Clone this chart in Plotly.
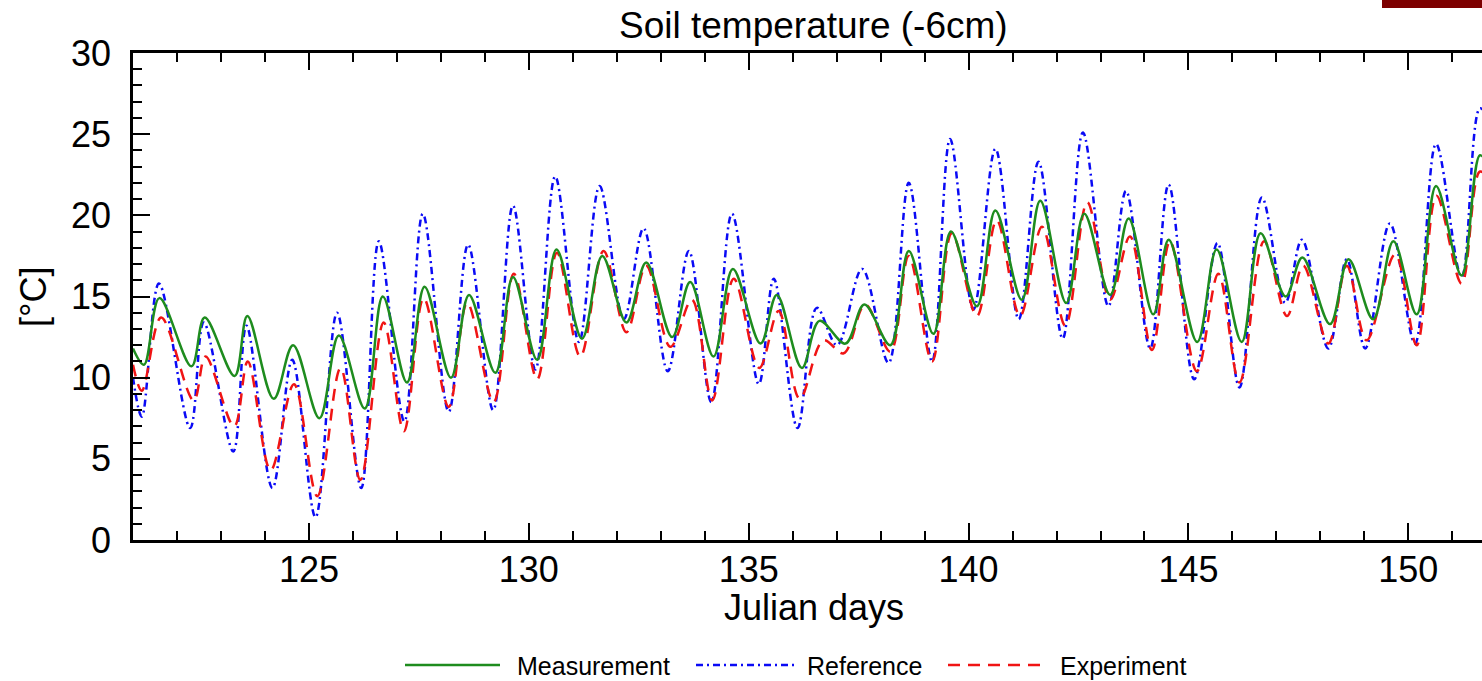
import plotly.graph_objects as go

# ---- data (daily extremes, Julian day / °C) ----
meas_x = [121.0, 121.25, 121.6, 122.33, 122.63, 123.31, 123.6, 124.2, 124.64, 125.24, 125.68, 126.27, 126.68,
          127.23, 127.63, 128.23, 128.64, 129.24, 129.64, 130.19, 130.63, 131.21, 131.67, 132.22, 132.67, 133.26,
          133.67, 134.2, 134.64, 135.27, 135.64, 136.21, 136.61, 137.2, 137.63, 138.22, 138.64, 139.2, 139.6,
          140.19, 140.61, 141.21, 141.63, 142.22, 142.63, 143.22, 143.64, 144.2, 144.55, 145.2, 145.64, 146.21,
          146.64, 147.21, 147.59, 148.22, 148.64, 149.2, 149.66, 150.19, 150.63, 151.21, 151.63, 151.9]
meas_y = [11.8, 10.8, 14.9, 10.7, 13.7, 10.1, 13.8, 8.7, 12.0, 7.5, 12.6, 8.1, 15.0,
          9.7, 15.6, 10.0, 15.1, 10.3, 16.2, 11.1, 17.9, 12.4, 17.5, 13.4, 17.1, 12.5,
          15.9, 11.3, 16.7, 12.1, 15.1, 10.6, 13.5, 12.1, 14.5, 12.0, 17.8, 12.7, 19.0,
          14.4, 20.3, 14.8, 20.9, 14.6, 20.1, 15.1, 19.8, 13.9, 18.5, 12.2, 17.9, 12.2,
          18.9, 15.0, 17.4, 13.3, 17.3, 13.6, 18.4, 13.9, 21.8, 16.3, 23.7, 22.5]

ref_x = [121.0, 121.2, 121.59, 122.3, 122.61, 123.28, 123.58, 124.17, 124.62, 125.15, 125.64, 126.19, 126.59,
         127.17, 127.59, 128.18, 128.62, 129.19, 129.64, 130.15, 130.6, 131.14, 131.61, 132.16, 132.61, 133.16,
         133.64, 134.15, 134.62, 135.23, 135.57, 136.11, 136.55, 137.01, 137.58, 138.18, 138.64, 139.17, 139.58,
         140.11, 140.61, 141.14, 141.59, 142.14, 142.6, 143.18, 143.58, 144.13, 144.55, 145.13, 145.66, 146.16,
         146.67, 147.2, 147.58, 148.18, 148.6, 149.02, 149.58, 150.15, 150.63, 151.21, 151.63, 151.9]
ref_y = [10.0, 7.6, 15.8, 6.9, 13.4, 5.45, 13.2, 3.2, 11.1, 1.4, 14.0, 3.2, 18.4,
         7.3, 20.1, 7.9, 18.2, 8.0, 20.6, 10.5, 22.4, 12.2, 21.8, 13.6, 19.2, 10.4,
         17.8, 8.5, 20.1, 9.6, 16.1, 6.9, 14.3, 12.0, 16.7, 10.9, 22.0, 11.0, 24.7,
         14.2, 24.1, 13.6, 23.3, 12.4, 25.1, 14.4, 21.5, 11.8, 21.9, 9.9, 18.3, 9.4,
         21.1, 14.6, 18.5, 11.8, 17.3, 11.8, 19.5, 12.1, 24.4, 16.2, 26.6, 25.5]

exp_x = [121.0, 121.2, 121.64, 122.38, 122.65, 123.3, 123.61, 124.13, 124.66, 125.19, 125.72, 126.17, 126.7,
         127.16, 127.61, 128.18, 128.6, 129.2, 129.66, 130.19, 130.64, 131.17, 131.7, 132.22, 132.67, 133.22,
         133.71, 134.17, 134.66, 135.24, 135.68, 136.16, 136.7, 137.16, 137.65, 138.22, 138.64, 139.17, 139.62,
         140.19, 140.64, 141.17, 141.67, 142.2, 142.7, 143.22, 143.67, 144.17, 144.58, 145.19, 145.68, 146.16,
         146.72, 147.24, 147.61, 148.18, 148.6, 149.05, 149.7, 150.19, 150.64, 151.21, 151.63, 151.9]
exp_y = [10.8, 9.2, 13.7, 8.6, 11.3, 7.0, 11.0, 4.3, 9.6, 2.7, 10.6, 3.7, 13.4,
         6.7, 14.9, 8.2, 14.6, 8.5, 16.4, 9.9, 17.7, 11.3, 17.8, 12.8, 16.9, 11.9,
         14.8, 8.6, 16.1, 10.6, 14.1, 8.7, 12.3, 11.5, 14.5, 11.6, 17.5, 11.0, 18.9,
         13.8, 19.7, 13.8, 19.3, 13.2, 20.8, 14.8, 18.7, 11.7, 18.4, 10.4, 16.4, 9.7,
         18.4, 13.8, 16.9, 12.1, 16.9, 12.3, 17.6, 12.0, 21.2, 15.8, 22.7, 22.0]

series_names = ["Measurement", "Reference", "Experiment"]
x_ticks = [125, 130, 135, 140, 145, 150]
y_ticks = [0, 5, 10, 15, 20, 25, 30]

GREEN = "rgb(30,140,30)"
BLUE = "rgb(10,10,245)"
RED = "rgb(240,20,20)"
DASH_REF = "7px,4px,2px,4px"
DASH_EXP = "12px,8px"
FONT = "Liberation Sans, Arial, Helvetica, sans-serif"

fig = go.Figure()
fig.add_trace(go.Scatter(x=ref_x, y=ref_y, mode="lines", name=series_names[1],
                         line=dict(color=BLUE, width=2.5, dash=DASH_REF, shape="spline", smoothing=1)))
fig.add_trace(go.Scatter(x=exp_x, y=exp_y, mode="lines", name=series_names[2],
                         line=dict(color=RED, width=2.5, dash=DASH_EXP, shape="spline", smoothing=1)))
fig.add_trace(go.Scatter(x=meas_x, y=meas_y, mode="lines", name=series_names[0],
                         line=dict(color=GREEN, width=2.5, shape="spline", smoothing=1)))

L, R, T, B = 133, 0, 53, 141
W, H = 1482, 681
pw, ph = W - L - R, H - T - B


def px(xp):
    return (xp - L) / pw


def py(yp):
    return (H - B - yp) / ph


fig.update_layout(
    width=W, height=H,
    margin=dict(l=L, r=R, t=T, b=B, pad=0),
    paper_bgcolor="white", plot_bgcolor="white",
    showlegend=False,
    font=dict(family=FONT, color="black"),
    xaxis=dict(range=[121.0, 151.675], tickvals=x_ticks, ticktext=[str(v) for v in x_ticks],
               ticks="inside", ticklen=17, tickwidth=2, tickcolor="black",
               minor=dict(dtick=1, tick0=0, ticks="inside", ticklen=9, tickwidth=2, tickcolor="black"),
               showline=True, linewidth=2.5, linecolor="black", mirror="allticks",
               showgrid=False, zeroline=False, tickfont=dict(size=36), ticklabelstandoff=-4),
    yaxis=dict(range=[0, 30], tickvals=y_ticks, ticktext=[str(v) for v in y_ticks],
               ticks="inside", ticklen=17, tickwidth=2, tickcolor="black",
               minor=dict(dtick=1, tick0=0, ticks="inside", ticklen=9, tickwidth=2, tickcolor="black"),
               showline=True, linewidth=2.5, linecolor="black", mirror=False,
               showgrid=False, zeroline=False, tickfont=dict(size=36), ticklabelstandoff=12),
    yaxis2=dict(range=[0, 30], overlaying="y", side="right", tickvals=[5, 10, 15, 20, 25],
                ticks="inside", ticklen=4, tickwidth=2, tickcolor="black",
                showticklabels=False, showline=False, showgrid=False, zeroline=False),
)

annotations = [
    dict(text="Soil temperature (-6cm)", x=px(813), y=py(25), xref="paper", yref="paper",
         showarrow=False, xanchor="center", yanchor="middle", font=dict(size=37, family=FONT)),
    dict(text="Julian days", x=px(814), y=py(607), xref="paper", yref="paper",
         showarrow=False, xanchor="center", yanchor="middle", font=dict(size=36, family=FONT)),
    dict(text="[°C]", x=px(33), y=py(297), xref="paper", yref="paper", textangle=-90,
         showarrow=False, xanchor="center", yanchor="middle", font=dict(size=36, family=FONT)),
]

legend_items = [
    (series_names[0], GREEN, "solid", 405, 500, 515),
    (series_names[1], BLUE, DASH_REF, 696, 795, 805),
    (series_names[2], RED, DASH_EXP, 948, 1040, 1058),
]
shapes = []
ly = 665
for name, color, dash, x0, x1, tx in legend_items:
    shapes.append(dict(type="line", xref="paper", yref="paper", x0=px(x0), x1=px(x1), y0=py(ly), y1=py(ly),
                       line=dict(color=color, width=2.5, dash=dash)))
    annotations.append(dict(text=name, x=px(tx), y=py(ly + 1), xref="paper", yref="paper", showarrow=False,
                            xanchor="left", yanchor="middle", font=dict(size=25, family=FONT)))

# dark red bar at the very top right of the picture
shapes.append(dict(type="rect", xref="paper", yref="paper", x0=px(1382), x1=px(1490), y0=py(8), y1=py(-5),
                   fillcolor="rgb(125,0,0)", line=dict(width=0)))

fig.update_layout(annotations=annotations, shapes=shapes)
fig.write_html("out.html", config={"displayModeBar": False},
               post_script="document.body.style.margin='0px';document.body.style.overflow='hidden';")
